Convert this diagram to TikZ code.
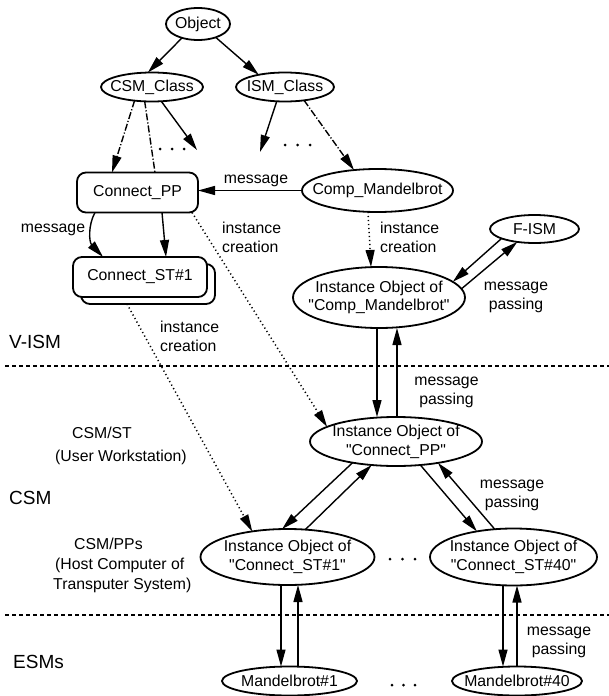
\documentclass[tikz,border=0pt]{standalone}
\usepackage{fontspec}
\setmainfont{Liberation Sans}[Ligatures=TeXOff]
\usetikzlibrary{shapes.geometric,arrows.meta,calc}

\begin{document}
\begin{tikzpicture}[x=1pt,y=-1pt,
  every node/.style={font=\fontsize{15.8}{18.8}\selectfont},
  ell/.style={ellipse, draw, line width=1.8pt, inner sep=0pt, outer sep=0pt, fill=white},
  rbox/.style={rectangle, rounded corners=9pt, draw, line width=1.8pt, inner sep=0pt, outer sep=0pt, fill=white},
  txt/.style={inner sep=0pt, align=center},
  lbl/.style={inner sep=0pt, align=left, anchor=west},
  region/.style={inner sep=0pt, anchor=west, font=\fontsize{19}{22}\selectfont},
  flow/.style={-{Triangle[length=17pt,width=9pt]}, line width=1.4pt},
  dotline/.style={line width=1.5pt, dash pattern=on 1.2pt off 2.8pt},
  dashdot/.style={line width=1.4pt, dash pattern=on 7pt off 2pt on 1.2pt off 2pt},
  divider/.style={line width=1.4pt, dash pattern=on 4pt off 3pt},
  ellip/.style={radius=1.5pt}
]
\fill[white] (0,0) rectangle (609,696);
\useasboundingbox (0,0) rectangle (609,696);

% ---- class hierarchy -------------------------------------------------
\node[ell, minimum width=64pt, minimum height=32pt] (obj) at (198,24) {};
\node[txt] (obj-t) at (obj) {Object};
\node[ell, minimum width=102pt, minimum height=29pt] (csm) at (152,87) {};
\node[txt] (csm-t) at (csm) {CSM\_Class};
\node[ell, minimum width=98pt, minimum height=29pt] (ism) at (285,87) {};
\node[txt] (ism-t) at (ism) {ISM\_Class};

\node[rbox, minimum width=121pt, minimum height=40pt] (cpp) at (137.5,192.5) {Connect\_PP};
\node[ell, minimum width=151pt, minimum height=43pt] (cm) at (377.5,190.5) {};
\node[txt] (cm-t) at (cm) {Comp\_Mandelbrot};

\node[rbox, minimum width=134pt, minimum height=40pt] (cstb) at (148,284) {};
\node[rbox, minimum width=134pt, minimum height=40pt] (cst) at (140,277) {Connect\_ST\#1};

\coordinate (csmmore) at (197,150);
\coordinate (ismmore) at (260,152);

\draw[flow] (obj.221) -- (csm.106);
\draw[flow] (obj.323) -- (ism.155);
\draw[flow, dashdot] (csm.218) -- ([xshift=-25.5pt]cpp.north);
\draw[dashdot] (csm.243) -- ([xshift=17.5pt]cpp.north);
\draw[flow] ([xshift=24.5pt]cpp.south) -- ([xshift=26pt]cst.north);
\draw[flow] (csm.303) -- (csmmore);
\draw[flow] (ism.240) -- (ismmore);
\draw[flow, dashdot] (ism.325) -- (cm.139);
\foreach \x in {160,172,184} \fill (\x,149) circle[ellip];
\foreach \x in {285,297.5,310} \fill (\x,145) circle[ellip];

\draw[flow] (cm.west) -- (cpp.east |- cm.west);
\node[txt] (msg1) at (256,181) {message};

\draw[flow] ([xshift=-42.5pt]cpp.south) .. controls (88,225) and (89,242) .. ([xshift=-37pt]cst.north);
\node[txt] (msg2) at (53,230) {message};

% ---- instance objects -----------------------------------------------
\node[ell, minimum width=89pt, minimum height=28pt] (fism) at (534.5,229) {};
\node[txt] (fism-t) at (fism) {F-ISM};
\node[ell, minimum width=172pt, minimum height=61pt] (icm) at (379,297.5) {};
\node[txt] (icm-t) at (icm) {Instance Object of\\"Comp\_Mandelbrot"};
\node[ell, minimum width=172pt, minimum height=49pt] (ipp) at (396,441.5) {};
\node[txt] (ipp-t) at (ipp) {Instance Object of\\"Connect\_PP"};
\node[ell, minimum width=174pt, minimum height=56pt] (ist1) at (287.5,557) {};
\node[txt] (ist1-t) at (ist1) {Instance Object of\\"Connect\_ST\#1"};
\node[ell, minimum width=167pt, minimum height=57pt] (ist40) at (513.5,557) {};
\node[txt] (ist40-t) at (ist40) {Instance Object of\\"Connect\_ST\#40"};
\node[ell, minimum width=135pt, minimum height=29pt] (m1) at (289.5,681) {};
\node[txt] (m1-t) at (m1) {Mandelbrot\#1};
\node[ell, minimum width=130pt, minimum height=29pt] (m40) at (517,681) {};
\node[txt] (m40-t) at (m40) {Mandelbrot\#40};

\foreach \x in {390,402.5,415} \fill (\x,559) circle[ellip];
\foreach \x in {392,403.5,415} \fill (\x,685) circle[ellip];

% ---- instance creation ----------------------------------------------
\draw[flow, dotline] ([xshift=-6pt]cpp.south east) -- (ipp.168);
\node[lbl] (ic1) at (222,237.5) {instance\\creation};
\draw[flow, dotline] ([xshift=-9.5pt]cm.south) -- ([xshift=-8pt]icm.north);
\node[lbl] (ic2) at (380,237.5) {instance\\creation};
\draw[flow, dotline] ([xshift=-21pt]cstb.south) -- (ist1.144);
\node[lbl] (ic3) at (160,336.5) {instance\\creation};

% ---- message passing ------------------------------------------------
\draw[flow] (fism.196) -- (icm.12);
\draw[flow] (icm.6) -- (fism.217);
\node[txt] (mp1) at (516,297.5) {message\\passing};

\draw[flow] ([xshift=-2pt]icm.south) -- ([xshift=-19pt]ipp.north);
\draw[flow] ([xshift=1pt]ipp.north) -- ([xshift=18pt]icm.south);
\node[txt] (mp2) at (446.5,392.5) {message\\passing};

\draw[flow] (ipp.206) -- (ist1.101);
\draw[flow] (ist1.57) -- (ipp.224);
\draw[flow] (ipp.316) -- (ist40.145);
\draw[flow] (ist40.124) -- (ipp.333);
\node[txt] (mp3) at (512,495) {message\\passing};

\draw[flow] ([xshift=-6.5pt]ist1.south) -- ([xshift=-8.5pt]m1.north);
\draw[flow] ([xshift=8.5pt]m1.north) -- ([xshift=10.5pt]ist1.south);
\draw[flow] ([xshift=-10.5pt]ist40.south) -- ([xshift=-14pt]m40.north);
\draw[flow] (m40.north) -- ([xshift=3.5pt]ist40.south);
\node[txt] (mp4) at (559,642.5) {message\\passing};

% ---- layer dividers and labels -------------------------------------
\coordinate (d1l) at (5,366);  \coordinate (d1r) at (609,366);
\coordinate (d2l) at (5,615);  \coordinate (d2r) at (609,615);
\draw[divider] (d1l) -- (d1r);
\draw[divider] (d2l) -- (d2r);

\node[region] (vism) at (9,342) {V-ISM};
\node[region] (csmreg) at (9,498) {CSM};
\node[region] (esms) at (13,662) {ESMs};

\node[lbl] (st1) at (72,433) {CSM/ST};
\node[lbl] (st2) at (55,457) {(User Workstation)};
\node[lbl] (pp1) at (74,544) {CSM/PPs};
\node[lbl] (pp2) at (55,565) {(Host Computer of};
\node[lbl] (pp3) at (53,585) {Transputer System)};
\end{tikzpicture}
\end{document}
